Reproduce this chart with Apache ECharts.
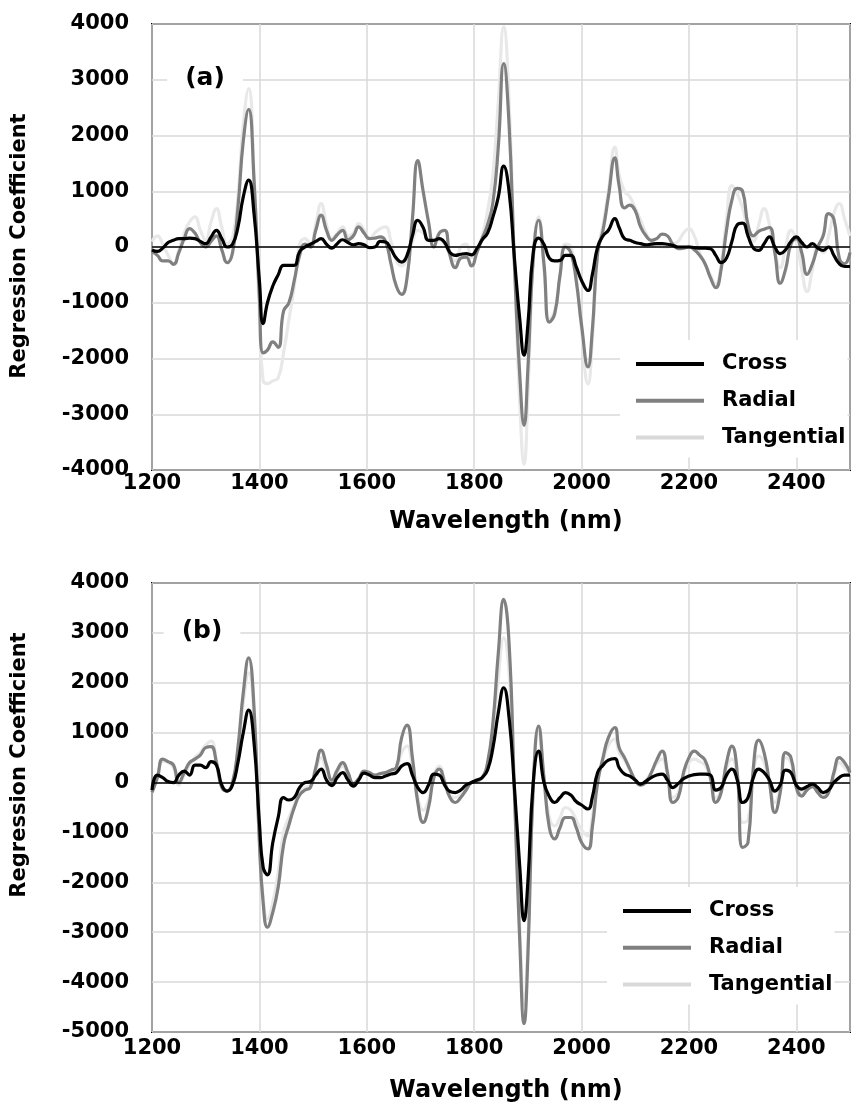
<!DOCTYPE html>
<html>
<head>
<meta charset="utf-8">
<script src="https://cdn.jsdelivr.net/npm/echarts@6/dist/echarts.min.js"></script>
<style>
html,body{margin:0;padding:0;background:#fff;}
#chart{width:853px;height:1114px;}
</style>
</head>
<body>
<div id="chart"></div>
<script>
const wavelengths = [
1200,1210,1220,1230,1240,1250,1260,1270,1280,1290,
1300,1310,1320,1330,1340,1350,1360,1370,1380,1390,
1400,1407,1415,1425,1435,1445,1455,1465,1475,1485,
1495,1505,1515,1525,1535,1545,1555,1565,1575,1585,
1595,1605,1615,1625,1635,1645,1655,1665,1675,1685,
1695,1705,1715,1725,1735,1745,1755,1765,1775,1785,
1795,1805,1815,1825,1835,1845,1855,1865,1875,1885,
1893,1900,1910,1920,1930,1940,1950,1960,1970,1980,
1990,2000,2012,2020,2030,2040,2050,2062,2070,2080,
2090,2100,2110,2120,2130,2140,2150,2160,2170,2180,
2190,2200,2210,2220,2230,2240,2250,2260,2270,2280,
2290,2300,2310,2320,2330,2340,2350,2360,2370,2380,
2390,2400,2410,2420,2430,2440,2450,2460,2470,2480,
2490,2500];

// Panel (a)
const crossA = [
-50,-80,-20,80,120,150,150,160,150,100,
60,180,300,150,0,50,350,900,1200,600,
-600,-1375,-1000,-700,-500,-330,-330,-330,-80,0,
50,100,150,50,-20,60,130,80,40,60,
40,-10,0,100,90,-40,-200,-270,-150,200,
480,350,120,120,150,80,-100,-150,-130,-120,
-140,-30,130,250,540,900,1450,1000,-200,-1300,
-1940,-1400,-100,160,50,-200,-250,-240,-150,-150,
-350,-600,-780,-500,0,200,300,510,350,150,
120,80,60,40,50,60,60,50,30,0,
0,0,-10,-20,-20,-30,-150,-280,-200,100,
400,430,200,-20,-60,60,180,0,-120,-50,
100,180,80,0,60,-20,-60,0,-150,-300,
-350,-350];
const radialA = [
-80,-150,-250,-250,-310,-100,150,330,250,80,
0,100,200,-50,-280,-100,700,1900,2470,1200,
-900,-1900,-1850,-1700,-1800,-1150,-1000,-600,-150,50,
0,300,570,300,120,220,300,130,200,360,
250,150,160,180,100,-300,-700,-850,-550,500,
1550,1000,450,0,250,300,-150,-370,-200,-180,
-340,-100,150,400,800,1800,3290,2200,-300,-2300,
-3200,-2200,-200,480,-300,-1350,-1200,-500,0,-100,
-600,-1400,-2150,-1500,-100,300,900,1600,1100,700,
750,650,360,200,120,150,230,200,50,-30,
-20,0,-50,-150,-300,-550,-730,-400,300,840,
1050,1000,400,200,280,320,350,-100,-650,-400,
50,150,-100,-490,-300,0,200,600,500,-200,
-300,-100];
const tangentialA = [
100,200,50,-150,-310,-50,250,450,540,300,
120,450,690,350,60,170,900,2200,2840,1300,
-1200,-2400,-2450,-2400,-2350,-1900,-1300,-700,50,150,
50,400,780,400,150,250,360,200,250,420,
300,150,250,330,360,100,-250,-340,-200,100,
300,250,150,100,130,50,-150,-250,0,50,
-190,-50,200,650,1300,2600,3950,2600,-300,-2800,
-3900,-2700,-200,540,-400,-1300,-1150,-500,50,0,
-500,-1500,-2460,-1700,-100,400,1000,1790,1300,1000,
900,700,480,250,100,50,0,0,50,100,
250,330,200,-100,-300,-500,-670,-300,500,1100,
950,700,300,100,400,690,400,-100,-370,0,
300,100,-400,-800,-400,0,-100,200,600,780,
500,200];

// Panel (b)
const crossB = [
-150,150,100,20,0,150,230,150,350,350,
300,420,350,-50,-170,-50,400,1000,1450,800,
-800,-1700,-1850,-1200,-700,-300,-350,-300,-100,0,
20,150,270,50,-60,100,200,50,-70,50,
190,150,100,100,130,170,200,330,380,150,
-100,-200,-50,170,150,-50,-180,-200,-150,-50,
0,50,100,250,700,1400,1900,1300,-100,-1700,
-2770,-2000,0,630,0,-280,-400,-300,-200,-250,
-380,-450,-530,-300,200,350,450,480,300,170,
130,50,-30,30,100,150,170,50,-100,-20,
80,130,160,170,170,150,-150,-100,150,270,
50,-400,-300,100,270,200,50,-170,-50,250,
200,-50,-130,-80,-30,-100,-200,-150,0,100,
150,150];
const radialB = [
-200,100,470,420,350,0,200,400,470,550,
700,720,400,-100,-170,0,700,1800,2500,1500,
-1200,-2400,-2900,-2600,-2100,-1250,-850,-500,-250,-150,
-100,300,650,350,50,250,400,200,-20,80,
230,200,150,180,200,250,300,900,1150,500,
-400,-800,-500,100,270,0,-300,-400,-300,-150,
0,30,100,400,1200,2600,3670,2800,-200,-3200,
-4830,-3500,-100,1130,100,-900,-1130,-900,-700,-700,
-900,-1200,-1330,-900,0,500,900,1100,700,500,
270,50,-50,0,200,450,630,200,-400,-300,
200,500,630,550,450,100,-400,-200,400,730,
200,-1300,-1200,300,850,600,0,-600,-200,600,
500,-100,-270,-150,-80,-200,-300,-200,200,500,
400,200];
const tangentialB = [
-200,80,430,400,300,-50,150,350,500,600,
750,830,450,-80,-170,0,600,1600,2200,1300,
-1100,-2300,-2730,-2400,-1800,-1000,-700,-450,-200,-100,
-50,250,500,250,0,200,330,150,-30,80,
220,200,150,170,200,220,280,600,730,300,
-300,-550,-350,150,330,50,-250,-300,-250,-100,
0,50,100,350,1000,2100,2900,2200,-200,-2900,
-4450,-3200,-50,1050,100,-700,-870,-700,-500,-550,
-750,-950,-1070,-700,100,450,750,870,600,450,
250,50,-50,50,200,380,470,150,-300,-200,
150,400,470,420,350,80,-300,-150,300,470,
100,-800,-750,200,530,400,0,-400,-100,500,
400,-80,-200,-120,-50,-150,-270,-150,150,400,
300,150];

const seriesNames = ['Cross','Radial','Tangential'];
const panelLabels = ['(a)','(b)'];
const xTitle = 'Wavelength (nm)';
const yTitle = 'Regression Coefficient';

const FONT = '"DejaVu Sans", Arial, sans-serif';
const colors = {Cross:'#000000', Radial:'#808080', Tangential:'#e8e8e8'};
const legendColors = {Cross:'#000000', Radial:'#808080', Tangential:'#d9d9d9'};

function pairs(vals){ return wavelengths.map((w,i)=>[w, vals[i]]); }

function mkSeries(name, vals, idx, withZero){
  const s = {
    name: name, type:'line', xAxisIndex: idx, yAxisIndex: idx,
    data: pairs(vals), smooth: 0.5, symbol:'none', silent:true,
    lineStyle:{color: colors[name], width: 3.2},
    itemStyle:{color: legendColors[name]},
    z: name==='Cross'?5:(name==='Radial'?4:3)
  };
  if (withZero) {
    s.markLine = {silent:true, symbol:'none', label:{show:false},
      lineStyle:{color:'#000', width:1.5, type:'solid'}, data:[{yAxis:0}]};
  }
  return s;
}

const grids = [
  {left:152, top:24, width:712, height:446},
  {left:152, top:583, width:712, height:449}
];

function xAx(idx, labelMargin, nameGap){
  return {
    type:'value', gridIndex: idx, min:1200, max:2500, interval:200,
    axisLine:{show:false}, axisTick:{show:false},
    splitLine:{show:true, lineStyle:{color:'#d9d9d9', width:1.5}},
    axisLabel:{margin: labelMargin, color:'#000', fontFamily: FONT, fontWeight:'bold', fontSize:21,
      formatter: v => (v===2500 ? '' : String(v))},
    name: xTitle, nameLocation:'middle', nameGap: nameGap,
    nameTextStyle:{color:'#000', fontFamily: FONT, fontWeight:'bold', fontSize:24, padding:[0,0,0,10]}
  };
}
function yAx(idx, min, max){
  return {
    type:'value', gridIndex: idx, min:min, max:max, interval:1000,
    axisLine:{show:false}, axisTick:{show:false},
    splitLine:{show:true, lineStyle:{color:'#d9d9d9', width:1.5}},
    axisLabel:{margin: 23, color:'#000', fontFamily: FONT, fontWeight:'bold', fontSize:21,
      formatter: v => String(v)}
  };
}

function legendFor(left, top){
  return {
    orient:'vertical', left:left, top:top, data: seriesNames,
    icon:'rect', itemWidth:68, itemHeight:4, itemGap:12.7,
    backgroundColor:'#fff', padding:[12,2,8,16],
    selectedMode:false,
    textStyle:{color:'#000', fontFamily: FONT, fontWeight:'bold', fontSize:21, lineHeight:24, padding:[0,0,0,13]},
    z: 20
  };
}

const chart = echarts.init(document.getElementById('chart'), null, {renderer:'canvas'});
chart.setOption({
  animation:false,
  backgroundColor:'#fff',
  grid: grids.map(g => Object.assign({show:true, borderColor:'#000', borderWidth:2, backgroundColor:'transparent'}, g)),
  xAxis:[xAx(0, 3, 40), xAx(1, 6, 47)],
  yAxis:[yAx(0,-4000,4000), yAx(1,-5000,4000)],
  legend:[legendFor(620, 340), legendFor(607, 887)],
  graphic:[
    {type:'text', x:20, y:246, rotation:Math.PI/2, z:50,
      style:{text:yTitle, font:'bold 21px ' + FONT, fill:'#000', align:'center', verticalAlign:'middle'}},
    {type:'text', x:20, y:765, rotation:Math.PI/2, z:50,
      style:{text:yTitle, font:'bold 21px ' + FONT, fill:'#000', align:'center', verticalAlign:'middle'}},
    {type:'text', x:205, y:78, z:50,
      style:{text:panelLabels[0], font:'bold 25px ' + FONT, fill:'#000', align:'center', verticalAlign:'middle',
        backgroundColor:'#fff', padding:[6,18,6,18]}},
    {type:'text', x:202, y:631, z:50,
      style:{text:panelLabels[1], font:'bold 25px ' + FONT, fill:'#000', align:'center', verticalAlign:'middle',
        backgroundColor:'#fff', padding:[6,18,6,18]}}
  ],
  series:[
    mkSeries('Tangential', tangentialA, 0, true),
    mkSeries('Radial', radialA, 0, false),
    mkSeries('Cross', crossA, 0, false),
    mkSeries('Tangential', tangentialB, 1, true),
    mkSeries('Radial', radialB, 1, false),
    mkSeries('Cross', crossB, 1, false)
  ]
});
</script>
</body>
</html>
